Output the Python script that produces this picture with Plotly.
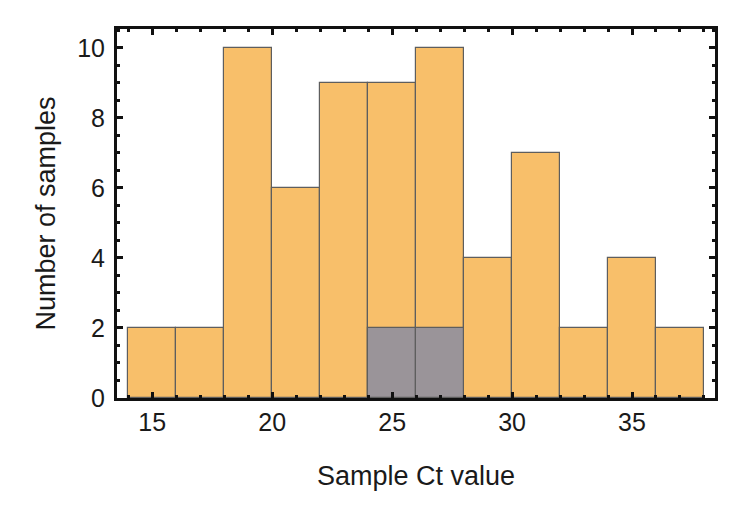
import plotly.graph_objects as go

bin_starts = [14, 16, 18, 20, 22, 24, 26, 28, 30, 32, 34, 36]
bin_width = 2
all_counts = [2, 2, 10, 6, 9, 9, 10, 4, 7, 2, 4, 2]
subset_counts = [0, 0, 0, 0, 0, 2, 2, 0, 0, 0, 0, 0]
x_ticks = [15, 20, 25, 30, 35]
y_ticks = [0, 2, 4, 6, 8, 10]

centers = [s + bin_width / 2 for s in bin_starts]

fig = go.Figure()
fig.add_trace(go.Bar(
    x=centers, y=all_counts, width=[bin_width] * len(centers),
    marker=dict(color="#F8BF6A", line=dict(color="#5E5E5E", width=1.2)),
    showlegend=False,
))
sub_x = [c for c, v in zip(centers, subset_counts) if v > 0]
sub_y = [v for v in subset_counts if v > 0]
fig.add_trace(go.Bar(
    x=sub_x, y=sub_y, width=[bin_width] * len(sub_x),
    marker=dict(color="#9A9499", line=dict(color="#5E5E5E", width=1.2)),
    showlegend=False,
))

font_family = "Liberation Sans, Arial, Helvetica, sans-serif"
fig.update_layout(
    width=747, height=530,
    margin=dict(l=109, r=40, t=21, b=140),
    barmode="overlay",
    bargap=0,
    plot_bgcolor="white",
    paper_bgcolor="white",
    font=dict(family=font_family, color="#1a1a1a"),
)
fig.update_xaxes(
    range=[13.53, 38.46],
    tickvals=x_ticks,
    ticks="inside", ticklen=6, tickwidth=2.5, tickcolor="#111111",
    minor=dict(dtick=1, ticks="inside", ticklen=3, tickwidth=2.5, tickcolor="#111111"),
    showline=True, linecolor="#111111", linewidth=3, mirror="ticks",
    showgrid=False, zeroline=False, automargin=False,
    tickfont=dict(size=25, color="#1a1a1a"),
    title=dict(text="Sample Ct value", font=dict(size=27, color="#1a1a1a"), standoff=32),
)
fig.update_yaxes(
    range=[0, 10.54],
    tickvals=y_ticks,
    ticks="inside", ticklen=6, tickwidth=2.5, tickcolor="#111111",
    minor=dict(dtick=0.5, ticks="inside", ticklen=3, tickwidth=2.5, tickcolor="#111111"),
    showline=True, linecolor="#111111", linewidth=3, mirror="ticks",
    showgrid=False, zeroline=False, automargin=False,
    tickfont=dict(size=25, color="#1a1a1a"),
    ticklabelstandoff=4,
    title=dict(text="Number of samples", font=dict(size=27, color="#1a1a1a"), standoff=14),
)

fig.write_html("out.html")
